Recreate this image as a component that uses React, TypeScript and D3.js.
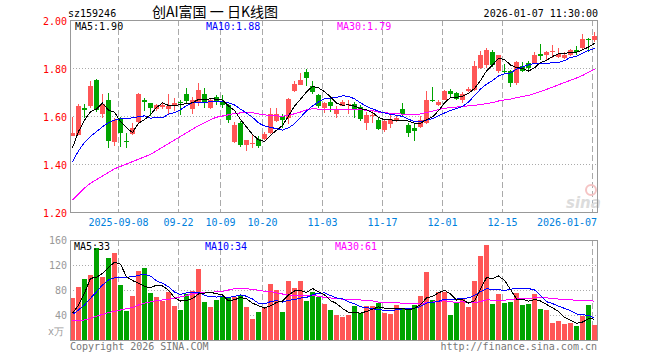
import React from 'react';
import * as d3 from 'd3';

// trading days shown on the chart
const dates = [
  '2025-08-27', '2025-08-28', '2025-08-29', '2025-09-01', '2025-09-02', '2025-09-03', '2025-09-04', '2025-09-05',
  '2025-09-08', '2025-09-09', '2025-09-10', '2025-09-11', '2025-09-12', '2025-09-15', '2025-09-16', '2025-09-17',
  '2025-09-18', '2025-09-19', '2025-09-22', '2025-09-23', '2025-09-24', '2025-09-25', '2025-09-26', '2025-09-29',
  '2025-09-30', '2025-10-09', '2025-10-10', '2025-10-13', '2025-10-14', '2025-10-15', '2025-10-16', '2025-10-17',
  '2025-10-20', '2025-10-21', '2025-10-22', '2025-10-23', '2025-10-24', '2025-10-27', '2025-10-28', '2025-10-29',
  '2025-10-30', '2025-10-31', '2025-11-03', '2025-11-04', '2025-11-05', '2025-11-06', '2025-11-07', '2025-11-10',
  '2025-11-11', '2025-11-12', '2025-11-13', '2025-11-14', '2025-11-17', '2025-11-18', '2025-11-19', '2025-11-20',
  '2025-11-21', '2025-11-24', '2025-11-25', '2025-11-26', '2025-11-27', '2025-11-28', '2025-12-01', '2025-12-02',
  '2025-12-03', '2025-12-04', '2025-12-05', '2025-12-08', '2025-12-09', '2025-12-10', '2025-12-11', '2025-12-12',
  '2025-12-15', '2025-12-16', '2025-12-17', '2025-12-18', '2025-12-19', '2025-12-22', '2025-12-23', '2025-12-24',
  '2025-12-25', '2025-12-26', '2025-12-29', '2025-12-30', '2025-12-31', '2026-01-05', '2026-01-06', '2026-01-07',
];

const opens = [
  1.518, 1.522, 1.633, 1.64, 1.75, 1.61, 1.667, 1.49, 1.59, 1.497, 1.525, 1.575, 1.668, 1.654, 1.63, 1.639,
  1.63, 1.646, 1.657, 1.69, 1.63, 1.653, 1.69, 1.635, 1.68, 1.657, 1.646, 1.493, 1.57, 1.48, 1.486, 1.505,
  1.505, 1.53, 1.578, 1.599, 1.59, 1.703, 1.731, 1.783, 1.724, 1.689, 1.633, 1.657, 1.607, 1.643, 1.645, 1.65,
  1.639, 1.57, 1.60, 1.583, 1.54, 1.565, 1.581, 1.629, 1.561, 1.55, 1.553, 1.571, 1.665, 1.645, 1.668, 1.705,
  1.696, 1.668, 1.703, 1.71, 1.80, 1.811, 1.867, 1.789, 1.787, 1.786, 1.7375, 1.807, 1.821, 1.821, 1.858, 1.855,
  1.868, 1.845, 1.842, 1.855, 1.876, 1.883, 1.92, 1.918,
];
const highs = [
  1.597, 1.65, 1.65, 1.745, 1.755, 1.69, 1.695, 1.59, 1.595, 1.53, 1.57, 1.695, 1.676, 1.655, 1.652, 1.655,
  1.69, 1.674, 1.667, 1.715, 1.68, 1.736, 1.715, 1.676, 1.687, 1.687, 1.65, 1.576, 1.578, 1.502, 1.525, 1.515,
  1.535, 1.633, 1.633, 1.61, 1.675, 1.745, 1.78, 1.795, 1.745, 1.692, 1.66, 1.674, 1.64, 1.667, 1.667, 1.66,
  1.647, 1.618, 1.62, 1.59, 1.586, 1.61, 1.60, 1.654, 1.571, 1.571, 1.60, 1.705, 1.72, 1.667, 1.71, 1.712,
  1.70, 1.70, 1.72, 1.828, 1.87, 1.883, 1.876, 1.855, 1.815, 1.793, 1.83, 1.825, 1.828, 1.867, 1.90, 1.87,
  1.894, 1.883, 1.868, 1.88, 1.89, 1.942, 1.925, 1.95,
];
const lows = [
  1.515, 1.52, 1.59, 1.635, 1.615, 1.59, 1.468, 1.475, 1.47, 1.468, 1.52, 1.57, 1.62, 1.60, 1.62, 1.63,
  1.605, 1.62, 1.605, 1.65, 1.607, 1.64, 1.632, 1.629, 1.646, 1.632, 1.57, 1.486, 1.47, 1.453, 1.467, 1.467,
  1.50, 1.525, 1.575, 1.55, 1.565, 1.70, 1.728, 1.724, 1.69, 1.633, 1.613, 1.615, 1.59, 1.64, 1.61, 1.59,
  1.58, 1.542, 1.57, 1.54, 1.533, 1.55, 1.575, 1.60, 1.511, 1.495, 1.55, 1.565, 1.66, 1.64, 1.665, 1.68,
  1.665, 1.655, 1.70, 1.705, 1.795, 1.80, 1.805, 1.78, 1.78, 1.72, 1.73, 1.785, 1.783, 1.815, 1.835, 1.835,
  1.84, 1.843, 1.838, 1.85, 1.855, 1.877, 1.865, 1.91,
];
const closes = [
  1.528, 1.64, 1.627, 1.725, 1.625, 1.65, 1.495, 1.585, 1.53, 1.494, 1.55, 1.693, 1.658, 1.632, 1.645, 1.646,
  1.64, 1.653, 1.654, 1.663, 1.667, 1.708, 1.653, 1.667, 1.657, 1.646, 1.583, 1.5625, 1.48, 1.50, 1.489, 1.474,
  1.525, 1.608, 1.608, 1.585, 1.672, 1.733, 1.751, 1.76, 1.70, 1.642, 1.655, 1.643, 1.629, 1.657, 1.648, 1.63,
  1.588, 1.604, 1.603, 1.546, 1.579, 1.5875, 1.59, 1.608, 1.529, 1.536, 1.585, 1.668, 1.662, 1.658, 1.703, 1.692,
  1.672, 1.69, 1.714, 1.807, 1.853, 1.876, 1.811, 1.853, 1.785, 1.7375, 1.825, 1.789, 1.80, 1.853, 1.849, 1.867,
  1.871, 1.858, 1.855, 1.876, 1.867, 1.922, 1.917, 1.932,
];

// volume, in 万
const volumes = [
  67.7, 84.8, 97.6, 104, 146.7, 100.8, 131.7, 139.2, 88, 46.4, 70.4, 110.4, 115.2, 74.7, 68.8, 62.9,
  77.3, 54.4, 48, 73.6, 78.9, 113.6, 61.3, 53.3, 64, 68.3, 66.7, 69.3, 72, 53.3, 33.6, 45.3,
  51.7, 89.6, 80, 45.3, 94.4, 82.7, 94.4, 62.9, 77.3, 69.3, 57.6, 48, 40, 37.3, 40, 54.4,
  42.7, 54.4, 54.4, 59.7, 43.7, 41.6, 56, 51.2, 49, 56, 70.4, 109.3, 64, 77.3, 77.3, 40,
  61.3, 65, 52.3, 94.9, 134.4, 152, 57.6, 73.6, 59.7, 61.3, 75.7, 56, 57.6, 73.6, 49.6, 48,
  27.7, 30.9, 25.6, 26.7, 22.4, 38.4, 56, 24,
];

// moving averages at the left edge (their windows reach back before the first day shown)
const ma5Lead = [1.468, 1.535, 1.583, 1.618];
const ma10Lead = [1.41, 1.455, 1.49, 1.515, 1.535, 1.555, 1.572, 1.583, 1.588];
const ma30Lead = [
  1.25, 1.275, 1.30, 1.32, 1.335, 1.35, 1.365, 1.38, 1.39, 1.40, 1.41, 1.42, 1.43, 1.44, 1.455,
  1.47, 1.485, 1.50, 1.515, 1.53, 1.545, 1.56, 1.572, 1.585, 1.595, 1.60, 1.605, 1.61, 1.613,
];
const volMa5Lead = [42.7, 56, 74.7, 98.7];
const volMa10Lead = [41, 48, 56, 66.7, 77, 88, 96, 99.7, 100.3];
const volMa30Lead = [
  31, 31.5, 32, 35, 38, 41, 44, 46, 48, 50, 52, 56, 59, 61, 63,
  64, 65, 67, 69, 71, 74, 75, 76, 76.5, 77, 78, 80, 82, 83,
];

const priceTicks = [1.2, 1.4, 1.6, 1.8, 2.0];
const volTicks = [40, 80, 120, 160];
const dateTicks = ['2025-09-08', '2025-09-22', '2025-10-09', '2025-10-20', '2025-11-03', '2025-11-17', '2025-12-01', '2025-12-15', '2026-01-07'];
const dateTickLabels = ['2025-09-08', '09-22', '10-09', '10-20', '11-03', '11-17', '12-01', '12-15', '2026-01-07'];

const RED = '#ff5656';
const GREEN = '#00a400';
const MONO = '"DejaVu Sans Mono", monospace';

function movingAvg(vals: number[], n: number, lead: number[]) {
  return vals.map((v, i) => (i < n - 1 ? lead[i] : (d3.mean(vals.slice(i - n + 1, i + 1)) as number)));
}

export default function App() {
  const left = 70, right = 597;
  const x = d3.scaleBand<number>().domain(d3.range(dates.length)).range([70, 598]);
  const y = d3.scaleLinear().domain([1.2, 2.0]).range([212, 20]);
  const yv = d3.scaleLinear().domain([0, 160]).range([340, 240]);

  const ma5 = movingAvg(closes, 5, ma5Lead);
  const ma10 = movingAvg(closes, 10, ma10Lead);
  const ma30 = movingAvg(closes, 30, ma30Lead);
  const vma5 = movingAvg(volumes, 5, volMa5Lead);
  const vma10 = movingAvg(volumes, 10, volMa10Lead);
  const vma30 = movingAvg(volumes, 30, volMa30Lead);

  const cx = (i: number) => (x(i) as number) + 2.5;
  const priceLine = d3.line<number>().x((d, i) => cx(i)).y(d => y(d));
  const volLine = d3.line<number>().x((d, i) => cx(i)).y(d => yv(d));

  const tickIdx = dateTicks.map(d => dates.indexOf(d));

  return (
    <svg width={660} height={360} style={{ position: 'absolute', left: 0, top: 0, background: '#fff' }}>
      {/* header */}
      <text x={68} y={17} fontFamily={MONO} fontSize={10} fill="#000">sz159246</text>
      <text x={152} y={17} fontFamily='"Noto Sans CJK SC", sans-serif' fontSize={14} fill="#000">创AI富国 一 日K线图</text>
      <text x={598} y={17} fontFamily={MONO} fontSize={10} fill="#000" textAnchor="end">2026-01-07 11:30:00</text>

      {/* price grid */}
      {priceTicks.slice(1, -1).map(t => (
        <line key={t} x1={left} x2={right} y1={y(t) + 0.5} y2={y(t) + 0.5} stroke="#aaa" strokeDasharray="1,2" shapeRendering="crispEdges" />
      ))}
      {priceTicks.map(t => (
        <text key={t} x={67} y={y(t) + 4.5} fontFamily={MONO} fontSize={10} fill="#f00" textAnchor="end">{t.toFixed(2)}</text>
      ))}
      {volTicks.slice(0, -1).map(t => (
        <line key={t} x1={left} x2={right} y1={yv(t) + 0.5} y2={yv(t) + 0.5} stroke="#aaa" strokeDasharray="1,2" shapeRendering="crispEdges" />
      ))}
      {volTicks.map(t => (
        <text key={t} x={67} y={yv(t) + 3.5} fontFamily={MONO} fontSize={10} fill="#999" textAnchor="end">{t}</text>
      ))}
      <text x={64} y={335} fontFamily={MONO} fontSize={10} fill="#999" textAnchor="end">x万</text>

      {/* date grid */}
      {tickIdx.map((i, k) => {
        const gx = (x(i) as number) + 0.5;
        const label = dateTickLabels[k];
        const half = label.length * 3;
        const lx = Math.min(gx, 597 - half);
        return (
          <g key={label}>
            <line x1={gx} x2={gx} y1={20} y2={212} stroke="#aaa" strokeDasharray="6,3" shapeRendering="crispEdges" />
            <line x1={gx} x2={gx} y1={240} y2={340} stroke="#aaa" strokeDasharray="6,3" shapeRendering="crispEdges" />
            <text x={lx} y={226} fontFamily={MONO} fontSize={10} fill="#0080dd" textAnchor="middle">{label}</text>
          </g>
        );
      })}

      {/* sina watermark */}
      <circle cx={591} cy={190} r={5} fill="none" stroke="#f5c4c4" strokeWidth={2} />
      <text x={566} y={208} fontFamily='"DejaVu Sans", sans-serif' fontStyle="italic" fontWeight="bold" fontSize={15} fill="#dcdcdc">sina</text>

      {/* candles */}
      {dates.map((d, i) => {
        const o = opens[i], c = closes[i];
        const color = c >= o ? RED : GREEN;
        const top = y(Math.max(o, c));
        const h = Math.max(1, y(Math.min(o, c)) - top);
        return (
          <g key={d} shapeRendering="crispEdges">
            <line x1={cx(i)} x2={cx(i)} y1={y(highs[i])} y2={y(lows[i])} stroke={color} />
            <rect x={x(i)} y={top} width={5} height={h} fill={color} />
          </g>
        );
      })}

      {/* price moving averages */}
      <path d={priceLine(ma30) as string} fill="none" stroke="#ff00ff" shapeRendering="crispEdges" />
      <path d={priceLine(ma10) as string} fill="none" stroke="#0000ff" shapeRendering="crispEdges" />
      <path d={priceLine(ma5) as string} fill="none" stroke="#000" shapeRendering="crispEdges" />

      {/* volume bars */}
      {dates.map((d, i) => (
        <rect key={d} x={x(i)} y={yv(volumes[i])} width={5} height={340 - yv(volumes[i])}
          fill={closes[i] >= opens[i] ? RED : GREEN} shapeRendering="crispEdges" />
      ))}
      <path d={volLine(vma30) as string} fill="none" stroke="#ff00ff" shapeRendering="crispEdges" />
      <path d={volLine(vma10) as string} fill="none" stroke="#0000ff" shapeRendering="crispEdges" />
      <path d={volLine(vma5) as string} fill="none" stroke="#000" shapeRendering="crispEdges" />

      {/* frames */}
      <rect x={left + 0.5} y={20.5} width={right - left} height={192} fill="none" stroke="#999" shapeRendering="crispEdges" />
      <rect x={left + 0.5} y={240.5} width={right - left} height={100} fill="none" stroke="#999" shapeRendering="crispEdges" />

      {/* legends */}
      <text x={75} y={30} fontFamily={MONO} fontSize={10} fill="#000">MA5:1.90</text>
      <text x={206} y={30} fontFamily={MONO} fontSize={10} fill="#0000ff">MA10:1.88</text>
      <text x={337} y={30} fontFamily={MONO} fontSize={10} fill="#ff00ff">MA30:1.79</text>
      <text x={74} y={250} fontFamily={MONO} fontSize={10} fill="#000">MA5:33</text>
      <text x={205} y={250} fontFamily={MONO} fontSize={10} fill="#0000ff">MA10:34</text>
      <text x={335} y={250} fontFamily={MONO} fontSize={10} fill="#ff00ff">MA30:61</text>

      {/* footer */}
      <text x={70} y={350} fontFamily={MONO} fontSize={10} fill="#777">Copyright 2026 SINA.COM</text>
      <text x={597} y={350} fontFamily={MONO} fontSize={10} fill="#777" textAnchor="end">http://finance.sina.com.cn</text>
    </svg>
  );
}
